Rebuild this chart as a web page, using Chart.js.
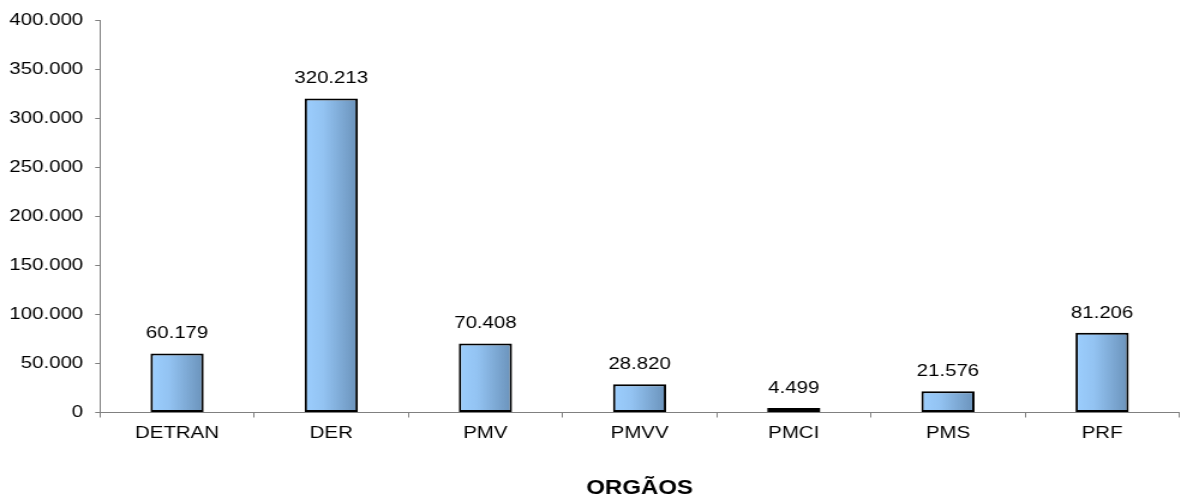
<!DOCTYPE html>
<html>
<head>
<meta charset="utf-8">
<script src="https://cdn.jsdelivr.net/npm/chart.js@4"></script>
<style>
  body { margin: 0; background: #fff; }
</style>
</head>
<body>
<!-- canvas is drawn narrower and stretched, the original chart has wide text -->
<canvas id="chart" width="984" height="500" style="width:1181px;height:500px"></canvas>
<script>
// dados
var orgaos = ["DETRAN", "DER", "PMV", "PMVV", "PMCI", "PMS", "PRF"];
var valores = [60179, 320213, 70408, 28820, 4499, 21576, 81206];
var yMax = 400000;
var yStep = 50000;

var fonte = "'Liberation Sans', Arial, sans-serif";

function fmt(v) {
    return String(v).replace(/\B(?=(\d{3})+(?!\d))/g, ".");
}

// gradiente por barra
function barFill(ctx) {
    var chart = ctx.chart;
    var xs = chart.scales.x;
    if (!xs || !chart.chartArea) return "#99ccff";
    var c = xs.getPixelForValue(ctx.dataIndex);
    var w = (xs.width / orgaos.length) * 0.345 / 2;
    var g = chart.ctx.createLinearGradient(c - w, 0, c + w, 0);
    g.addColorStop(0, "#9ccefe");
    g.addColorStop(0.35, "#93c3f2");
    g.addColorStop(1, "#6a92ba");
    return g;
}

// rótulos em cima das barras
var rotulos = {
    id: "rotulos",
    afterDatasetsDraw: function (chart) {
        var ctx = chart.ctx;
        var meta = chart.getDatasetMeta(0);
        ctx.save();
        ctx.font = "17px " + fonte;
        ctx.fillStyle = "#000";
        ctx.textAlign = "center";
        ctx.textBaseline = "alphabetic";
        meta.data.forEach(function (bar, i) {
            ctx.fillText(fmt(valores[i]), bar.x, bar.y - 15);
        });
        ctx.restore();
    }
};

var ctx = document.getElementById("chart").getContext("2d");
var chart = new Chart(ctx, {
    type: "bar",
    data: {
        labels: orgaos,
        datasets: [{
            data: valores,
            backgroundColor: barFill,
            borderColor: "#000",
            borderWidth: 2,
            borderSkipped: false,
            categoryPercentage: 1,
            barPercentage: 0.345
        }]
    },
    plugins: [rotulos],
    options: {
        responsive: false,
        devicePixelRatio: 1,
        animation: false,
        layout: { padding: { top: 20, right: 1.5, bottom: 0, left: 0 } },
        plugins: {
            legend: { display: false },
            tooltip: { enabled: false }
        },
        scales: {
            x: {
                offset: true,
                grid: { offset: true, drawOnChartArea: false, tickLength: 5, color: "#808080" },
                border: { color: "#808080", width: 1 },
                ticks: { color: "#000", padding: 6, font: { family: fonte, size: 17 } },
                title: {
                    display: true,
                    text: "ORGÃOS",
                    color: "#000",
                    font: { family: fonte, size: 20, weight: "bold" },
                    padding: { top: 0, bottom: 0 }
                },
                afterFit: function (s) { s.height = 87.5; }
            },
            y: {
                min: 0,
                max: yMax,
                grid: { drawOnChartArea: false, tickLength: 4, color: "#808080" },
                border: { color: "#808080", width: 1 },
                ticks: {
                    stepSize: yStep,
                    color: "#000",
                    padding: 10,
                    font: { family: fonte, size: 17 },
                    callback: function (v) { return fmt(v); }
                },
                afterFit: function (s) { s.width = 83.3; }
            }
        }
    }
});
</script>
</body>
</html>
